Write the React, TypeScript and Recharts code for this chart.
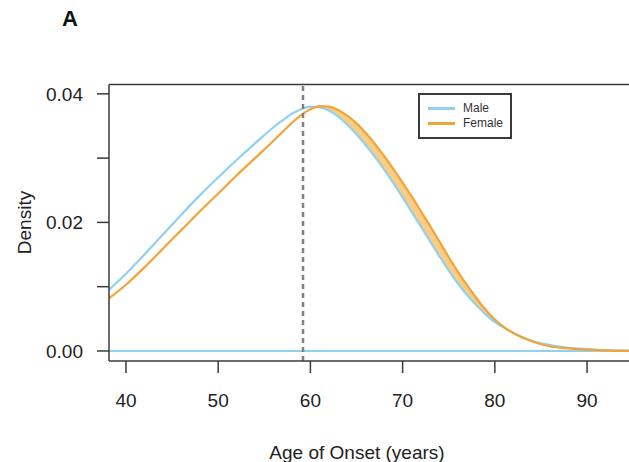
import React from 'react';
import {
  ComposedChart, Line, Area, XAxis, YAxis, ReferenceLine, Legend, Label
} from 'recharts';

// Age grid (years) and kernel density
const ages = [38, 40, 42, 44, 46, 48, 50, 52, 54, 56, 57, 58, 59, 60, 61, 62, 63, 64, 65, 66, 67, 68, 69, 70, 71, 72, 73, 74, 75, 76, 77, 78, 79, 80, 81, 82, 84, 86, 88, 90, 92, 94, 95];
const maleDensity = [0.0093, 0.0120, 0.0150, 0.0181, 0.0212, 0.0242, 0.0270, 0.0297, 0.0323, 0.0348, 0.0359, 0.0369, 0.0376, 0.0380, 0.0379, 0.0374, 0.0365, 0.0352, 0.0337, 0.0320, 0.0302, 0.0282, 0.0261, 0.0239, 0.0216, 0.0193, 0.0170, 0.0147, 0.0125, 0.0105, 0.0087, 0.0071, 0.0057, 0.0045, 0.0036, 0.0028, 0.0016, 0.0009, 0.0005, 0.0003, 0.0001, 0.0001, 0.0000];
const femaleDensity = [0.0080, 0.0103, 0.0130, 0.0159, 0.0188, 0.0217, 0.0245, 0.0273, 0.0300, 0.0327, 0.0341, 0.0355, 0.0367, 0.0376, 0.0381, 0.0380, 0.0375, 0.0366, 0.0354, 0.0339, 0.0322, 0.0303, 0.0283, 0.0262, 0.0240, 0.0217, 0.0194, 0.0170, 0.0146, 0.0123, 0.0102, 0.0082, 0.0064, 0.0049, 0.0037, 0.0028, 0.0015, 0.0007, 0.0004, 0.0002, 0.0001, 0.0000, 0.0000];

const xTicks = [40, 50, 60, 70, 80, 90];
const yTicks = [0, 0.01, 0.02, 0.03, 0.04];
const yLabelled = [0, 0.02, 0.04];
const medianAge = 59.2;

const xDomain: [number, number] = [38.16, 94.55];
const yDomain: [number, number] = [-0.00156, 0.04145];

const MALE = '#92d1ee';
const FEMALE = '#f2a434';
const BAND = '#f9cd88';
const FRAME = '#3a3a3a';
const FONT = '"Liberation Sans", Arial, sans-serif';

const data = ages.map((age, i) => ({
  age,
  male: maleDensity[i],
  female: femaleDensity[i],
  // shaded only where the female curve lies above the male one
  band: [maleDensity[i], Math.max(maleDensity[i], femaleDensity[i])],
}));

const LegendBox = () => (
  <div style={{ border: `2px solid ${FRAME}`, background: '#fff', width: 90, height: 42, boxSizing: 'content-box', fontFamily: FONT, fontSize: 12, color: '#333' }}>
    {[{ name: 'Male', c: MALE }, { name: 'Female', c: FEMALE }].map((it, i) => (
      <div key={it.name} style={{ position: 'absolute', left: 10, top: 8 + i * 15, display: 'flex', alignItems: 'center', height: 14 }}>
        <span style={{ display: 'inline-block', width: 27, height: 3, background: it.c, marginRight: 8 }} />
        <span>{it.name}</span>
      </div>
    ))}
  </div>
);

export default function App() {
  return (
    <div style={{ position: 'absolute', left: 0, top: 0, width: 629, height: 462, overflow: 'hidden', background: '#fff', fontFamily: FONT }}>
      <ComposedChart width={629} height={462} data={data} margin={{ top: 84.5, right: 0, bottom: 0, left: 0 }}>
        <XAxis
          type="number"
          dataKey="age"
          domain={xDomain}
          ticks={xTicks}
          allowDataOverflow
          height={101}
          tickSize={12}
          tickMargin={21}
          axisLine={{ stroke: FRAME, strokeWidth: 1.5 }}
          tickLine={{ stroke: FRAME, strokeWidth: 1.5 }}
          tick={{ fill: '#222', fontSize: 19, fontFamily: FONT }}
        >
          <Label
            content={() => (
              <text x={357} y={459} textAnchor="middle" fontSize={19} fontFamily={FONT} fill="#222">
                Age of Onset (years)
              </text>
            )}
          />
        </XAxis>
        <YAxis
          type="number"
          domain={yDomain}
          ticks={yTicks}
          allowDataOverflow
          width={109}
          tickSize={12}
          tickMargin={14}
          tickFormatter={(v: number) => (yLabelled.includes(v) ? v.toFixed(2) : '')}
          axisLine={{ stroke: FRAME, strokeWidth: 1.5 }}
          tickLine={{ stroke: FRAME, strokeWidth: 1.5 }}
          tick={{ fill: '#222', fontSize: 19, fontFamily: FONT }}
        >
          <Label
            content={() => (
              <text x={31} y={222.5} transform="rotate(-90 31 222.5)" textAnchor="middle" fontSize={19} fontFamily={FONT} fill="#222">
                Density
              </text>
            )}
          />
        </YAxis>
        <ReferenceLine y={yDomain[1]} stroke={FRAME} strokeWidth={1.5} />
        <ReferenceLine y={0} stroke={MALE} strokeWidth={2} />
        <Area dataKey="band" type="monotone" fill={BAND} fillOpacity={1} stroke="none" isAnimationActive={false} legendType="none" />
        <Line dataKey="male" name="Male" type="monotone" stroke={MALE} strokeWidth={2.2} dot={false} isAnimationActive={false} />
        <Line dataKey="female" name="Female" type="monotone" stroke={FEMALE} strokeWidth={2.2} dot={false} isAnimationActive={false} />
        <ReferenceLine x={medianAge} stroke="#808080" strokeWidth={2.5} strokeDasharray="5 4" />
        <Legend
          verticalAlign="middle"
          align="center"
          layout="horizontal"
          content={<LegendBox />}
          wrapperStyle={{ left: 418, top: 93, width: 94, height: 46 }}
        />
        <text x={62} y={26} fontSize={22} fontWeight="bold" fontFamily={FONT} fill="#111">A</text>
      </ComposedChart>
    </div>
  );
}
